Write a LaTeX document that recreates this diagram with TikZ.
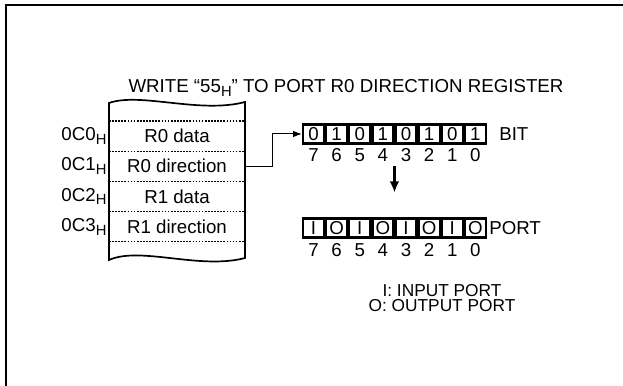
\documentclass[tikz,border=0pt]{standalone}
\usepackage{fontspec}
\setmainfont{Liberation Sans}
\usetikzlibrary{positioning,arrows.meta,calc}
\newcommand{\regfont}{\fontsize{13.3}{15}\selectfont}
\newcommand{\hexsub}[1]{\raisebox{-0.4ex}{\fontsize{10.5}{10.5}\selectfont #1}}

\begin{document}
\begin{tikzpicture}[scale=1.0, font=\regfont,
  cell/.style={minimum width=3.4cm, minimum height=0.755cm, inner sep=0pt},
  bitbox/.style={draw, line width=1.6pt, minimum width=0.525cm, minimum height=0.47cm, inner sep=0pt},
  sep/.style={line width=0.9pt, dash pattern=on 1.2pt off 1pt},
  conn/.style={-{Latex[length=2.2mm,width=1.6mm]}, line width=0.7pt}]
\useasboundingbox (0,0) rectangle (15.575,9.65);
% frame
\draw[line width=1.8pt] (0.15,-0.2) -- (0.15,9.525) -- (15.8,9.525);
\node (title) at (8.65,7.45) {WRITE “55\hexsub{H}” TO PORT R0 DIRECTION REGISTER};
% register file
\draw[line width=1.2pt] (2.725,3.15) -- (2.725,7.075) .. controls (3.5,7.35) and (5.0,6.8) .. (6.125,7.1)
  -- (6.125,3.2) .. controls (5.0,2.9) and (3.5,3.5) .. cycle;
\foreach \y in {6.625,5.87,5.115,4.36,3.605}
  \draw[sep] (2.725,\y) -- (6.125,\y);
\foreach \nm/\txt/\adr [count=\i from 0] in {r0dat/R0 data/0C0, r0dir/R0 direction/0C1,
    r1dat/R1 data/0C2, r1dir/R1 direction/0C3} {
  \node[cell] (\nm) at (4.425,{6.2475-0.755*\i}) {\txt};
  \node[left=0.05cm of \nm, inner sep=0pt] (adr\i) {\adr\hexsub{H}};
}
% bit pattern
\foreach \b [count=\i from 0] in {0,1,0,1,0,1,0,1} {
  \pgfmathtruncatemacro{\n}{7-\i}
  \node[bitbox] (b\n) at ({7.839+0.578*\i},6.3) {\b};
  \node[inner sep=0pt] (bn\n) at ({7.839+0.578*\i},5.78) {\n};
}
\node[right=0.3cm of b0, inner sep=0pt] (bitlbl) {BIT};
% port direction
\foreach \p [count=\i from 0] in {I,O,I,O,I,O,I,O} {
  \pgfmathtruncatemacro{\n}{7-\i}
  \node[bitbox] (p\n) at ({7.839+0.578*\i},3.95) {\p};
  \node[inner sep=0pt] (pn\n) at ({7.839+0.578*\i},3.40) {\n};
}
\node[right=0.05cm of p0, inner sep=0pt] (portlbl) {PORT};
\node[align=center, font=\fontsize{12.3}{11}\selectfont] (legend) at (11.05,2.2) {I: INPUT PORT\\O: OUTPUT PORT};
% connectors
\draw[conn] (r0dir.east) -- ++(0.675,0) |- (b7.west);
\draw[-{Latex[length=2.8mm,width=2.4mm]}, line width=1.6pt, shorten <=0.12cm, shorten >=0.62cm]
  ($(bn4.south)!0.5!(bn3.south)$) -- ($(p4.north)!0.5!(p3.north)$);
\end{tikzpicture}
\end{document}
